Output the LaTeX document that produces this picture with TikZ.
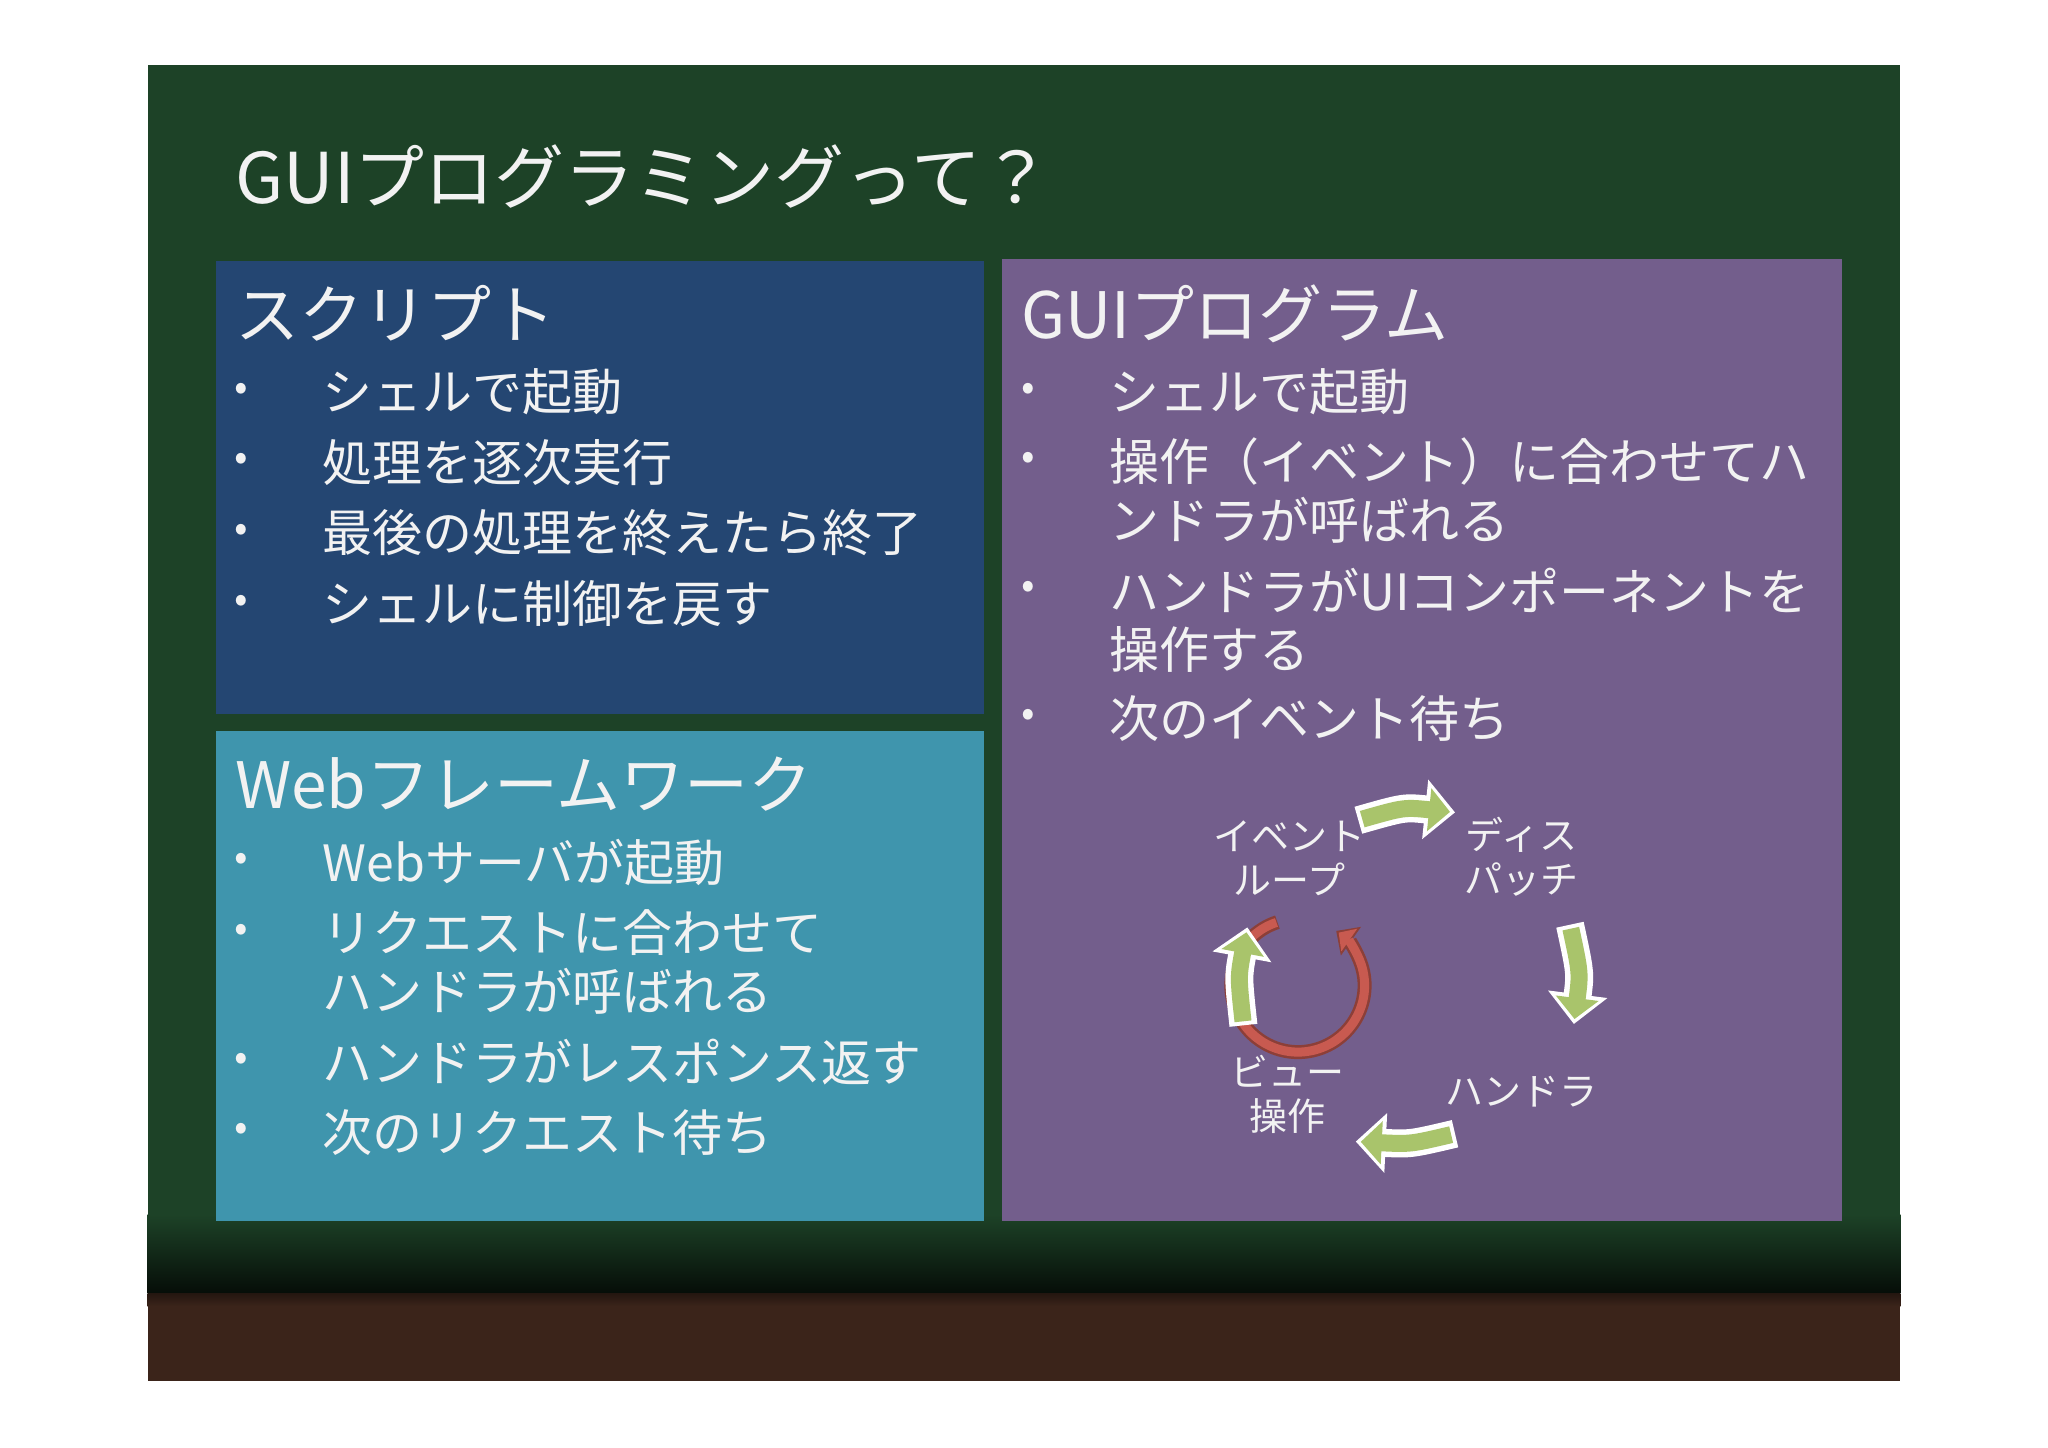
\documentclass[tikz,border=0pt]{standalone}
\usepackage{fontspec}
\setmainfont{Noto Sans CJK JP}
\usetikzlibrary{arrows.meta,shadings}
\definecolor{board}{HTML}{1D4227}
\definecolor{bluebox}{HTML}{244672}
\definecolor{tealbox}{HTML}{3F95AD}
\definecolor{purplebox}{HTML}{735E8C}
\definecolor{wood}{HTML}{3B241A}
\definecolor{txt}{HTML}{F2F2F2}
\definecolor{agreen}{HTML}{A9C46B}
\definecolor{ared}{HTML}{C85A50}
\begin{document}
\begin{tikzpicture}[x=1.306pt,y=-1.306pt,
  ttl/.style={anchor=west,text=txt,font=\fontsize{70}{80}\selectfont,inner sep=0},
  head/.style={anchor=west,text=txt,font=\fontsize{64}{74}\selectfont,inner sep=0},
  itm/.style={anchor=west,text=txt,font=\fontsize{50}{58}\selectfont,inner sep=0},
  bul/.style={text=txt,font=\fontsize{40}{40}\selectfont,inner sep=0},
  lbl/.style={text=txt,font=\fontsize{38}{44}\selectfont,align=center,inner sep=0},
  garrow/.style={line width=28pt,white,-{Triangle[length=30pt,width=58pt]}},
  garrowin/.style={line width=17pt,agreen,shorten >=5pt,shorten <=4pt,-{Triangle[length=21pt,width=42pt]}}]
\useasboundingbox (0,0) rectangle (1568,1108);
\fill[white] (0,0) rectangle (1568,1108);
\fill[board] (113,50) rectangle (1455,1057);
\shade[top color=board,bottom color=black!80!board] (113,930) rectangle (1455,990);
\fill[wood] (113,990) rectangle (1455,1057);
\shade[top color=black!40!wood,bottom color=wood] (113,990) rectangle (1455,1000);
\node[ttl] (title) at (180,135) {GUIプログラミングって？};
% boxes
\fill[bluebox] (165,200) rectangle (753,547);
\fill[tealbox] (165,560) rectangle (753,935);
\fill[purplebox] (767,198) rectangle (1410,935);
% script
\node[head] (h1) at (180,240) {スクリプト};
\foreach \t/\y [count=\i] in {シェルで起動/300,処理を逐次実行/354,最後の処理を終えたら終了/408,シェルに制御を戻す/462}{
  \node[bul] (b1\i) at (185,\y) {•};
  \node[itm] (t1\i) at (247,\y) {\t};}
% web
\node[head] (h2) at (180,600) {Webフレームワーク};
\foreach \y [count=\i] in {660,714,813,867}{\node[bul] (b2\i) at (185,\y) {•};}
\node[itm] (t21) at (247,660) {Webサーバが起動};
\node[itm] (t22) at (247,714) {リクエストに合わせて};
\node[itm] (t22b) at (247,759) {ハンドラが呼ばれる};
\node[itm] (t23) at (247,813) {ハンドラがレスポンス返す};
\node[itm] (t24) at (247,867) {次のリクエスト待ち};
% gui
\node[head] (h3) at (782,240) {GUIプログラム};
\foreach \y [count=\i] in {300,353,452,550}{\node[bul] (b3\i) at (787,\y) {•};}
\node[itm] (t31) at (849,300) {シェルで起動};
\node[itm] (t32) at (849,353) {操作（イベント）に合わせてハ};
\node[itm] (t32b) at (849,398) {ンドラが呼ばれる};
\node[itm] (t33) at (849,452) {ハンドラがUIコンポーネントを};
\node[itm] (t33b) at (849,497) {操作する};
\node[itm] (t34) at (849,550) {次のイベント待ち};
% cycle
\coordinate (c) at (993,655);
\draw[line width=14pt,ared!70!black,-{Triangle[length=18pt,width=34pt]}] (978,706) arc[start angle=252,end angle=-55,radius=51];
\draw[line width=9pt,ared,shorten >=3pt,shorten <=1pt,-{Triangle[length=13pt,width=27pt]}] (978,706) arc[start angle=252,end angle=-55,radius=51];
\node[lbl] (loop) at (987,657) {イベント\\ループ};
\node[lbl] (disp) at (1165,656) {ディス\\パッチ};
\node[lbl] (hand) at (1165,836) {ハンドラ};
\node[lbl] (view) at (986,838) {ビュー\\操作};
\coordinate (a1s) at (1040,628); \coordinate (a1e) at (1114,622);
\coordinate (a2s) at (1202,708); \coordinate (a2e) at (1205,784);
\coordinate (a3s) at (1114,868); \coordinate (a3e) at (1038,874);
\coordinate (a4s) at (952,785); \coordinate (a4e) at (955,710);
\foreach \s/\e/\m in {a1s/a1e/{(1075,618)},a2s/a2e/{(1210,745)},a3s/a3e/{(1080,876)},a4s/a4e/{(948,748)}}{
  \draw[garrow] (\s) .. controls \m .. (\e);
  \draw[garrowin] (\s) .. controls \m .. (\e);}
\end{tikzpicture}
\end{document}
